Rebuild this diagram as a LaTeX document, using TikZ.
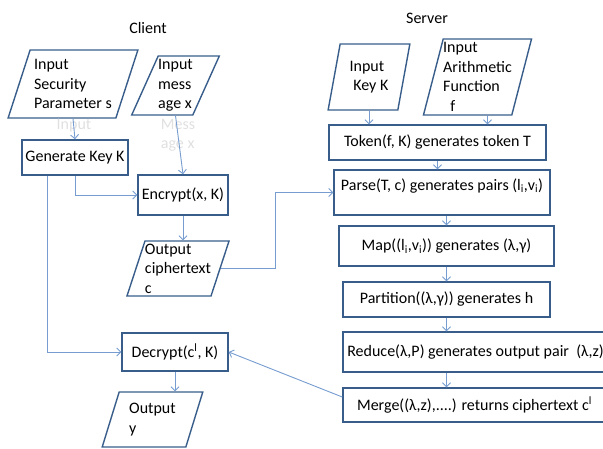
\documentclass[tikz,border=0pt]{standalone}
\usepackage{fontspec}
\setmainfont{Carlito}
\usetikzlibrary{shapes.geometric, arrows.meta}
\definecolor{boxblue}{RGB}{56,93,138}
\definecolor{linkblue}{RGB}{118,156,208}

\begin{document}
\begin{tikzpicture}[
  x=1pt, y=-1pt,
  font=\fontsize{16}{19.5}\selectfont,
  box/.style={draw=boxblue, line width=1.4pt, inner sep=0pt, minimum height=#1},
  para/.style={trapezium, trapezium left angle=#1, trapezium right angle={180-#1},
    trapezium stretches=true, draw=boxblue, line width=1.4pt, inner sep=0pt, align=left},
  link/.style={draw=linkblue, line width=0.9pt, -{Straight Barb[length=4pt,width=8pt]}},
  ghost/.style={text=black!12, align=left},
]
  \useasboundingbox (0,0) rectangle (603,448);

  % client side
  \node (client) at (148,28) {Client};
  \node[para=68, minimum width=130, minimum height=68] (secpar) at (73,84) {Input\\Security\\Parameter s};
  \node[para=63, minimum width=85, minimum height=59] (msg) at (175.5,85.5) {Input\\mess\\age x};
  \node[ghost] (secghost) at (74,126) {Input};
  \node[ghost] (msgghost) at (178,135) {Mess\\age x};
  \node[box=35, minimum width=106] (genkey) at (75,157.5) {Generate Key K};
  \node[box=40, minimum width=90] (encrypt) at (183,195) {Encrypt(x, K)};
  \node[para=70, minimum width=100, minimum height=55] (cipher) at (178,268.5) {Output\\ciphertext\\c};
  \node[box=38, minimum width=106] (decrypt) at (175,352) {Decrypt(c\textsuperscript{l}, K)};
  \node[para=70, minimum width=101, minimum height=55] (outy) at (152.5,419.5) {Output\\y};

  % server side
  \node (server) at (427,18) {Server};
  \node[para=76, minimum width=82, minimum height=66] (keyk) at (369,77) {Input\\\ Key K};
  \node[para=74, minimum width=105, minimum height=76] (arith) at (477.5,77) {Input\\Arithmetic\\Function\\\ \ f};
  \node[box=35, minimum width=217] (token) at (437.5,142.5) {Token(f, K) generates token T};
  \node[box=45, minimum width=216, text depth=16pt] (parse) at (442,192.5) {Parse(T, c) generates pairs (l\textsubscript{i},v\textsubscript{i})};
  \node[box=40, minimum width=215] (map) at (446.5,246) {Map((l\textsubscript{i},v\textsubscript{i})) generates (λ,γ)};
  \node[box=35, minimum width=207] (partition) at (446.5,299.5) {Partition((λ,γ)) generates h};
  \node[box=40, minimum width=265] (reduce) at (475.5,352) {Reduce(λ,P) generates output pair\ \ (λ,z)};
  \node[box=34, minimum width=263] (merge) at (474.5,405) {Merge((λ,z),....) returns ciphertext c\textsuperscript{l}};

  % connectors
  \draw[link] (secpar.south) -- (genkey.north);
  \draw[link] (msg.south) -- (encrypt.north);
  \draw[link] (genkey.south) |- (encrypt.west);
  \draw[link] ([xshift=-28pt]genkey.south) |- (decrypt.west);
  \draw[link] (encrypt.south) -- (encrypt.south |- cipher.north);
  \draw[link] (cipher.east) -- ++(55,0) |- (parse.west);
  \draw[link] (keyk.south) -- (keyk.south |- token.north);
  \draw[link] ([xshift=10pt]arith.south) -- ([xshift=10pt]arith.south |- token.north);
  \draw[link] (token.south) -- (token.south |- parse.north);
  \draw[link] (parse.south -| map.north) -- (map.north);
  \draw[link] (map.south) -- (partition.north);
  \draw[link] (partition.south) -- (partition.south |- reduce.north);
  \draw[link] (reduce.south -| partition.south) -- (merge.north -| partition.south);
  \draw[link] ([yshift=8pt]merge.west) -- (decrypt.east);
  \draw[link] (decrypt.south) -- (decrypt.south |- outy.north);
\end{tikzpicture}
\end{document}
